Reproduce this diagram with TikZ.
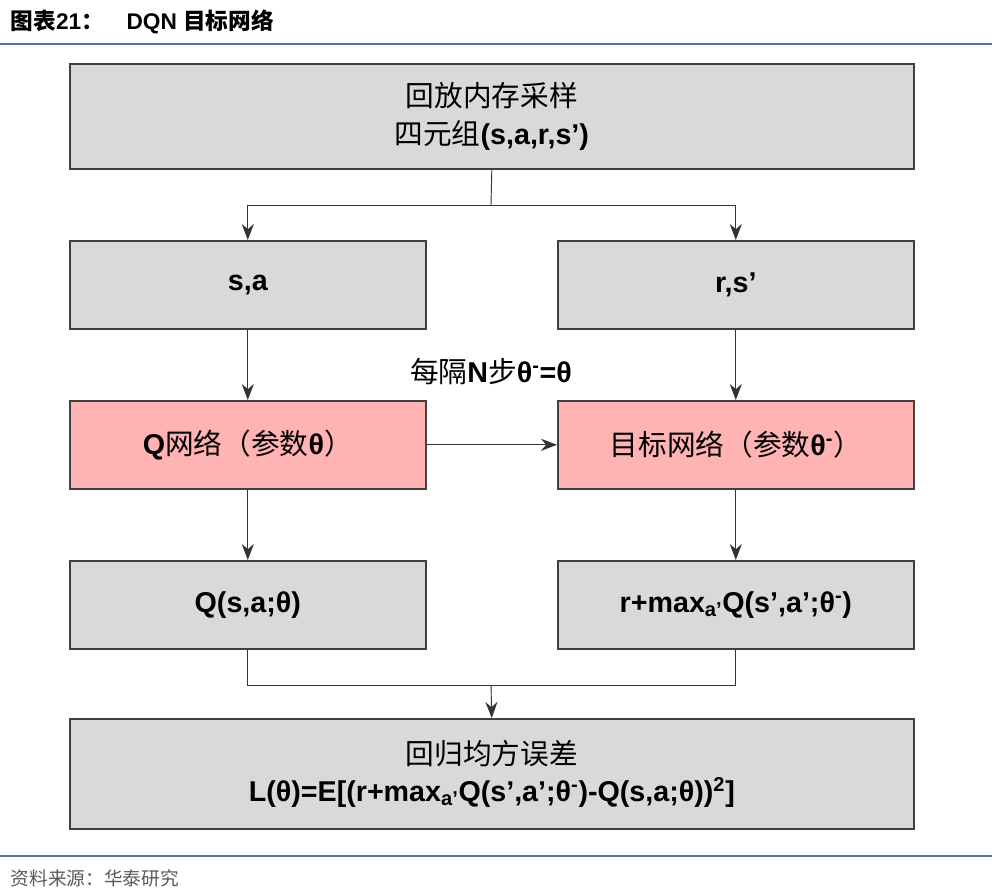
\documentclass[tikz,border=0pt]{standalone}
\usepackage{fontspec}
\setmainfont{Liberation Sans}
\newfontfamily\cjkf{Noto Sans CJK SC}
\newcommand\cjk{\cjkf\mdseries}
\usetikzlibrary{arrows.meta}
\definecolor{boxgray}{HTML}{D9D9D9}
\definecolor{boxpink}{HTML}{FFB3B3}
\definecolor{rule}{HTML}{4F74A8}
\tikzset{
  bx/.style={draw=black!75, line width=1.2pt, fill=boxgray, anchor=north west, inner sep=0pt, font=\fontsize{21.5}{28}\selectfont\bfseries},
  bx2/.style={bx, align=center},
  pk/.style={bx, fill=boxpink},
  ar/.style={-{Stealth[length=12pt,width=9pt]}, line width=0.7pt, draw=black!80},
  ln/.style={line width=0.7pt, draw=black!80}
}
\begin{document}
\begin{tikzpicture}[x=0.75pt,y=-0.75pt]
\useasboundingbox (0,0) rectangle (992,894);
\node[anchor=west,font=\fontsize{17}{20}\selectfont\bfseries] (t) at (6,22) {{\cjkf\bfseries 图表}21{\cjkf\bfseries ：}\quad DQN {\cjkf\bfseries 目标网络}};
\draw[rule,line width=1pt] (0,44) -- (992,44);
\draw[rule,line width=1pt] (0,856) -- (992,856);
\node[anchor=west,font=\fontsize{14}{16}\selectfont\cjk,text=black!65] (src) at (6,878) {资料来源：华泰研究};

\node[bx2,minimum width=844*0.75pt,minimum height=105*0.75pt] (top) at (69,63) {{\cjk 回放内存采样}\\{\cjk 四元组}(s,a,r,s’)};
\node[bx,minimum width=356*0.75pt,minimum height=88*0.75pt] (sa) at (69,240) {s,a};
\node[bx,minimum width=356*0.75pt,minimum height=88*0.75pt] (rs) at (557,240) {r,s’};
\node[pk,minimum width=356*0.75pt,minimum height=88*0.75pt] (q) at (69,400) {Q{\cjk 网络（参数}θ{\cjk ）}};
\node[pk,minimum width=356*0.75pt,minimum height=88*0.75pt] (tq) at (557,400) {{\cjk 目标网络（参数}θ\textsuperscript{-}{\cjk ）}};
\node[bx,minimum width=356*0.75pt,minimum height=88*0.75pt] (qv) at (69,560) {Q(s,a;θ)};
\node[bx,minimum width=356*0.75pt,minimum height=88*0.75pt] (tv) at (557,560) {r+max\textsubscript{a’}Q(s’,a’;θ\textsuperscript{-})};
\node[bx2,minimum width=844*0.75pt,minimum height=110*0.75pt] (loss) at (69,718) {{\cjk 回归均方误差}\\L(θ)=E[(r+max\textsubscript{a’}Q(s’,a’;θ\textsuperscript{-})-Q(s,a;θ))\textsuperscript{2}]};
\node[font=\fontsize{21.5}{24}\selectfont\bfseries] (lab) at (491,372) {{\cjk 每隔}N{\cjk 步}θ\textsuperscript{-}=θ};

\coordinate (j1) at (491,205);
\coordinate (j2) at (491,685);
\draw[ln] (top.south) -- (j1);
\draw[ar] (j1) -| (sa.north);
\draw[ar] (j1) -| (rs.north);
\draw[ar] (sa) -- (q);
\draw[ar] (rs) -- (tq);
\draw[ar] (q) -- (tq);
\draw[ar] (q) -- (qv);
\draw[ar] (tq) -- (tv);
\draw[ln] (qv.south) |- (j2) -| (tv.south);
\draw[ar] (j2) -- (loss.north);
\end{tikzpicture}
\end{document}
